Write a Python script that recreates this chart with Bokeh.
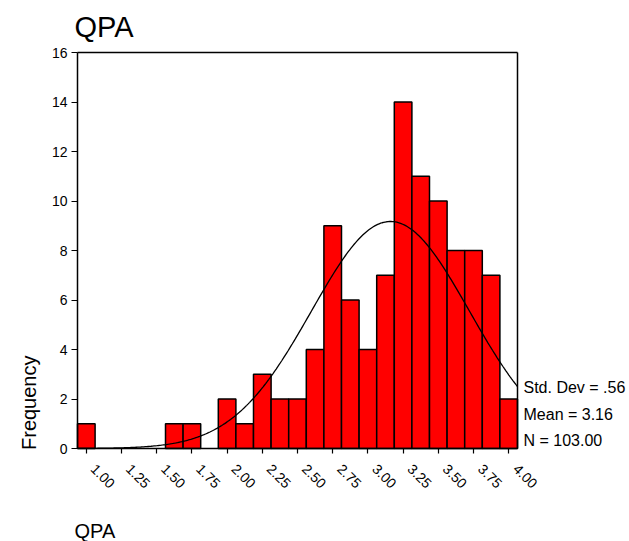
import math
import numpy as np
from bokeh.plotting import figure
from bokeh.models import (Range1d, FixedTicker, NumeralTickFormatter, Label, LinearAxis,
                          ColumnDataSource, CustomJSTickFormatter)
from bokeh.embed import file_html
from bokeh.resources import INLINE

# ---- data ----
bin_centers = [1.000, 1.125, 1.250, 1.375, 1.500, 1.625, 1.750, 1.875, 2.000, 2.125,
               2.250, 2.375, 2.500, 2.625, 2.750, 2.875, 3.000, 3.125, 3.250, 3.375,
               3.500, 3.625, 3.750, 3.875, 4.000]
counts = [1, 0, 0, 0, 0, 1, 1, 0, 2, 1,
          3, 2, 2, 4, 9, 6, 4, 7, 14, 11,
          10, 8, 8, 7, 2]
bin_width = 0.125
x_ticks = [1.00, 1.25, 1.50, 1.75, 2.00, 2.25, 2.50, 2.75, 3.00, 3.25, 3.50, 3.75, 4.00]
y_ticks = [0, 2, 4, 6, 8, 10, 12, 14, 16]
std_dev = 0.56
mean = 3.16
n_total = 103
stats_lines = ["Std. Dev = .56", "Mean = 3.16", "N = 103.00"]
title_text = "QPA"
x_label_text = "QPA"
y_label_text = "Frequency"

FONT = "Liberation Sans"
W, H = 629, 541

# plot box (bin edges x count range) and its place in the picture
x0 = bin_centers[0] - bin_width / 2
x1 = bin_centers[-1] + bin_width / 2
y0, y1 = y_ticks[0], y_ticks[-1]
box_left, box_top, box_w, box_h = 77, 52, 440, 396
px_x = box_w / (x1 - x0)
px_y = box_h / (y1 - y0)

x_range = Range1d(x0 - box_left / px_x, x0 + (W - box_left) / px_x)
y_range = Range1d(y0 - (H - box_top - box_h) / px_y, y0 + (box_top + box_h) / px_y)

p = figure(width=W, height=H, output_backend="svg", toolbar_location=None,
           x_range=x_range, y_range=y_range, min_border=0,
           x_axis_location=None, y_axis_location=None)
p.background_fill_color = "white"
p.border_fill_color = "white"
p.outline_line_color = None
p.grid.visible = False

# bars
bars = ColumnDataSource(dict(x=[c for c, k in zip(bin_centers, counts) if k > 0],
                             top=[k for k in counts if k > 0]))
p.vbar(x="x", top="top", width=bin_width, bottom=0, source=bars,
       fill_color="#FF0000", line_color="black", line_width=1.5)

# normal curve from the stated statistics
xs = np.linspace(x0, x1, 300)
ys = n_total * bin_width / (std_dev * math.sqrt(2 * math.pi)) * np.exp(-0.5 * ((xs - mean) / std_dev) ** 2)
p.line(xs, ys, line_color="black", line_width=1.3)


def style(ax):
    ax.axis_line_color = "black"
    ax.axis_line_width = 1.5
    ax.major_tick_line_color = "black"
    ax.major_tick_line_width = 1.2
    ax.major_tick_in = 0
    ax.minor_tick_line_color = None
    ax.major_label_text_font = FONT
    ax.major_label_text_font_size = "14px"
    ax.major_label_text_color = "black"


yax = LinearAxis(fixed_location=x0, bounds=(y0, y1), ticker=FixedTicker(ticks=y_ticks))
style(yax)
yax.major_tick_out = 6
yax.major_label_standoff = 4
p.add_layout(yax, "left")

# x axis: line and ticks
xax = LinearAxis(fixed_location=y0, bounds=(x0, x1), ticker=FixedTicker(ticks=x_ticks))
style(xax)
xax.major_tick_out = 5
xax.major_label_text_color = None
p.add_layout(xax, "below")

# x axis: slanted tick labels, set a little to the right of their ticks as in the reference
label_dx = 7 / px_x
xlab = LinearAxis(fixed_location=y0, ticker=FixedTicker(ticks=[t + label_dx for t in x_ticks]),
                  formatter=CustomJSTickFormatter(args=dict(dx=label_dx),
                                                  code="return (tick - dx).toFixed(2)"))
style(xlab)
xlab.axis_line_color = None
xlab.major_tick_line_color = None
xlab.major_tick_out = 5
xlab.major_label_orientation = -math.pi / 4
xlab.major_label_standoff = 13
p.add_layout(xlab, "below")

# top and right edges of the plot box
top_ax = LinearAxis(fixed_location=y1, bounds=(x0, x1), ticker=FixedTicker(ticks=[]))
right_ax = LinearAxis(fixed_location=x1, bounds=(y0, y1), ticker=FixedTicker(ticks=[]))
for ax in (top_ax, right_ax):
    style(ax)
    ax.major_tick_line_color = None
p.add_layout(top_ax, "above")
p.add_layout(right_ax, "right")

# texts
p.add_layout(Label(x=x0 - 3 / px_x, y=y1 + (box_top - 26.7) / px_y, text=title_text,
                   text_font=FONT, text_font_size="29px", text_color="black",
                   text_baseline="alphabetic", text_align="left"))
p.add_layout(Label(x=x0 - 3 / px_x, y=y0 - 82 / px_y, text=x_label_text,
                   text_font=FONT, text_font_size="20px", text_color="black",
                   text_baseline="alphabetic", text_align="left"))
p.add_layout(Label(x=x0 - 49 / px_x, y=y0 - 1.5 / px_y, text=y_label_text, angle=math.pi / 2,
                   text_font=FONT, text_font_size="20px", text_color="black",
                   text_baseline="alphabetic", text_align="left"))
for s, off in zip(stats_lines, [61, 34.5, 8]):
    p.add_layout(Label(x=x1 + 6 / px_x, y=y0 + off / px_y, text=s,
                       text_font=FONT, text_font_size="16px", text_color="black",
                       text_baseline="alphabetic", text_align="left"))

open("out.html", "w").write(file_html(p, INLINE))
